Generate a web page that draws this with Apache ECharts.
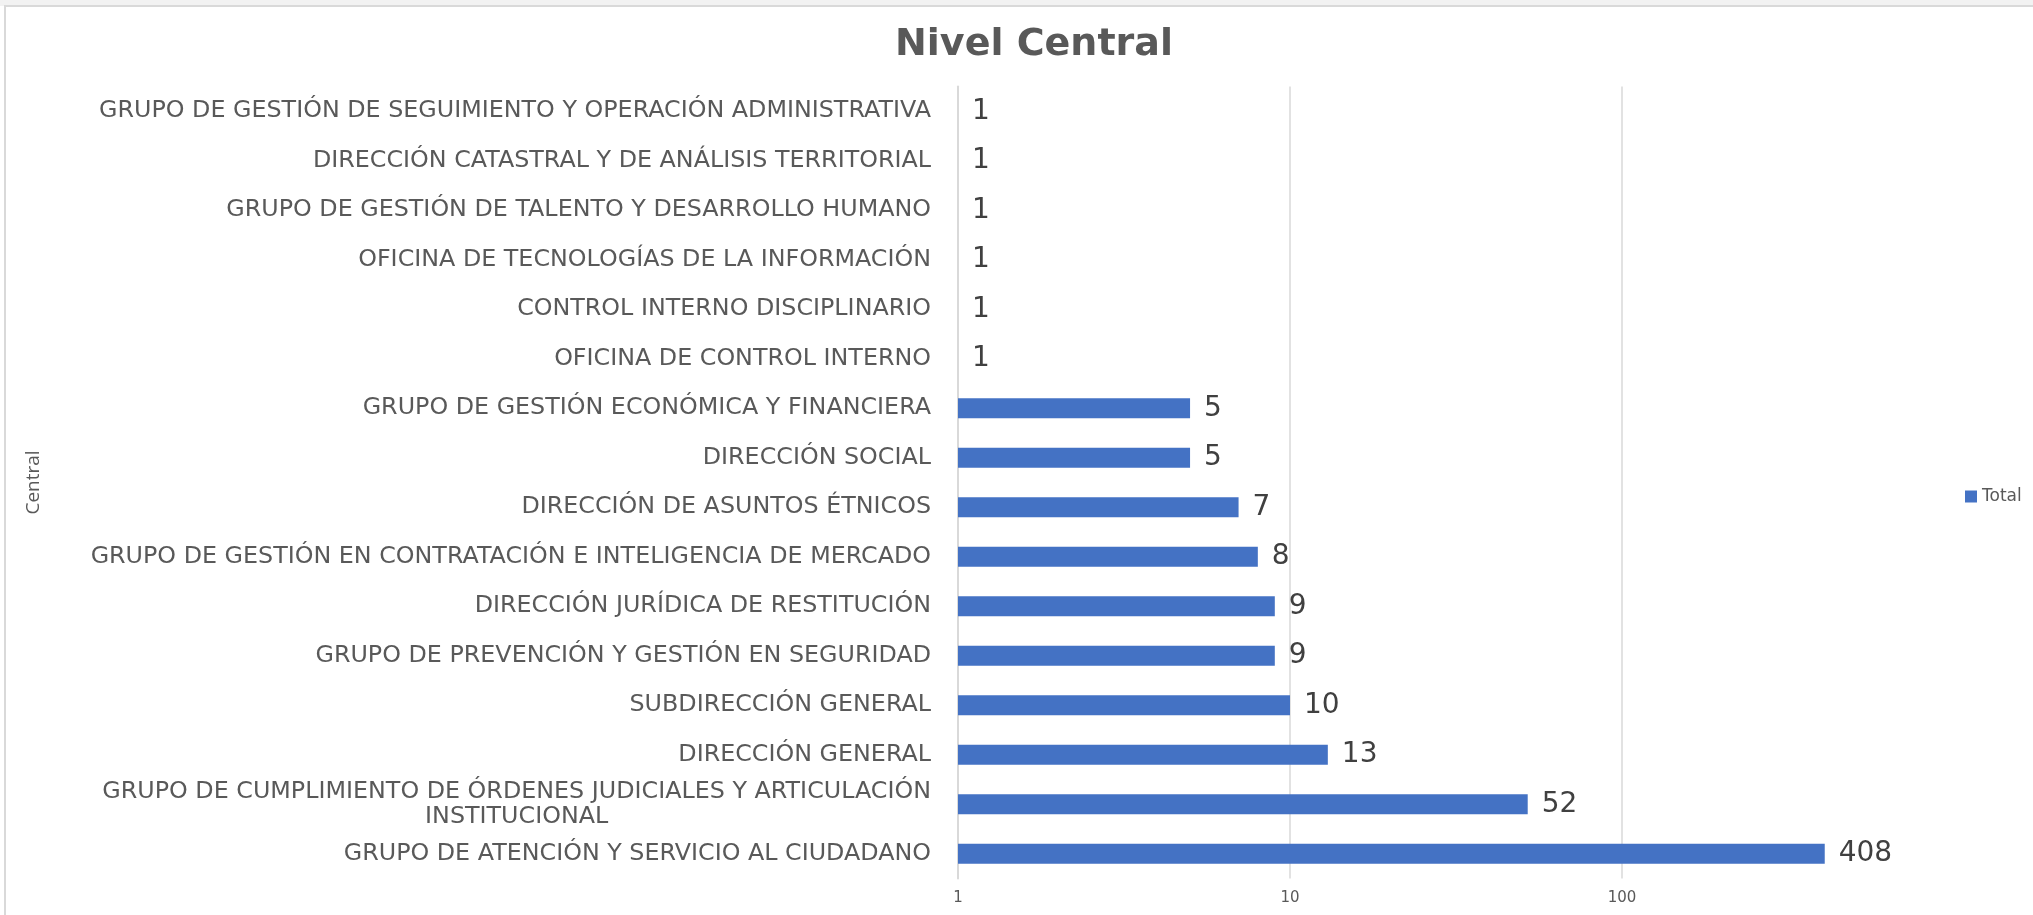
<!DOCTYPE html>
<html>
<head>
<meta charset="utf-8">
<script src="https://cdn.jsdelivr.net/npm/echarts@6/dist/echarts.min.js"></script>
<style>
  html, body { margin: 0; padding: 0; background: #ffffff; }
  #chart { width: 2033px; height: 915px; }
</style>
</head>
<body>
<div id="chart"></div>
<script>
// ---- data (top to bottom as displayed) ----
const titleText = 'Nivel Central';
const seriesName = 'Total';
const axisName = 'Central';
const categories = [
  'GRUPO DE GESTIÓN DE SEGUIMIENTO Y OPERACIÓN ADMINISTRATIVA',
  'DIRECCIÓN CATASTRAL Y DE ANÁLISIS TERRITORIAL',
  'GRUPO DE GESTIÓN DE TALENTO Y DESARROLLO HUMANO',
  'OFICINA DE TECNOLOGÍAS DE LA INFORMACIÓN',
  'CONTROL INTERNO DISCIPLINARIO',
  'OFICINA DE CONTROL INTERNO',
  'GRUPO DE GESTIÓN ECONÓMICA Y FINANCIERA',
  'DIRECCIÓN SOCIAL',
  'DIRECCIÓN DE ASUNTOS ÉTNICOS',
  'GRUPO DE GESTIÓN EN CONTRATACIÓN E INTELIGENCIA DE MERCADO',
  'DIRECCIÓN JURÍDICA DE RESTITUCIÓN',
  'GRUPO DE PREVENCIÓN Y GESTIÓN EN SEGURIDAD',
  'SUBDIRECCIÓN GENERAL',
  'DIRECCIÓN GENERAL',
  'GRUPO DE CUMPLIMIENTO DE ÓRDENES JUDICIALES Y ARTICULACIÓN\nINSTITUCIONAL',
  'GRUPO DE ATENCIÓN Y SERVICIO AL CIUDADANO'
];
const values = [1, 1, 1, 1, 1, 1, 5, 5, 7, 8, 9, 9, 10, 13, 52, 408];
const axisMin = 1;
const axisMax = 1000;

// ---- styling ----
const FONT = '"DejaVu Sans", "Liberation Sans", sans-serif';
const GREY = '#595959';

// fit category label size so longest line is about 842px wide
const ctx = document.createElement('canvas').getContext('2d');
function textW(t, size) { ctx.font = size + 'px "DejaVu Sans"'; return ctx.measureText(t).width; }
let longest = 0;
categories.forEach(c => c.split('\n').forEach(l => { longest = Math.max(longest, textW(l, 100)); }));
const catSize = Math.round(842 / longest * 100 * 10) / 10;

const chart = echarts.init(document.getElementById('chart'), null, { renderer: 'canvas' });

const option = {
  backgroundColor: '#ffffff',
  animation: false,
  title: {
    text: titleText,
    left: 1029,
    textAlign: 'center',
    top: 21,
    textStyle: { fontFamily: FONT, fontSize: 38, fontWeight: 'bold', color: GREY }
  },
  legend: {
    data: [seriesName],
    left: 1960,
    top: 483,
    icon: 'rect',
    itemWidth: 12,
    itemHeight: 12,
    textStyle: { fontFamily: FONT, fontSize: 17, color: GREY }
  },
  graphic: [
    { type: 'rect', silent: true, z: -10, shape: { x: 0, y: 0, width: 2033, height: 6 }, style: { fill: '#f2f2f2' } },
    { type: 'rect', silent: true, z: -10, shape: { x: 5, y: 6, width: 2100, height: 1000 }, style: { fill: null, stroke: '#d9d9d9', lineWidth: 2 } }
  ],
  grid: {
    left: 958,
    right: 79,
    top: 86.5,
    bottom: 36.5,
    containLabel: false
  },
  xAxis: {
    type: 'log',
    logBase: 10,
    min: axisMin,
    max: axisMax,
    axisLine: { show: false },
    axisTick: { show: false },
    axisLabel: {
      showMaxLabel: false,
      margin: 12,
      fontFamily: FONT,
      fontSize: 15,
      color: GREY
    },
    splitLine: {
      show: true,
      showMinLine: false,
      showMaxLine: false,
      lineStyle: { color: '#d9d9d9', width: 1.5 }
    }
  },
  yAxis: {
    type: 'category',
    data: categories,
    inverse: true,
    name: axisName,
    nameLocation: 'middle',
    nameRotate: 90,
    nameGap: 915,
    nameTextStyle: { fontFamily: '"Open Sans", sans-serif', fontSize: 19, color: GREY },
    axisLine: { show: true, lineStyle: { color: '#d9d9d9', width: 2 } },
    axisTick: { show: false },
    axisLabel: {
      margin: 27,
      fontFamily: FONT,
      fontSize: catSize,
      color: GREY,
      lineHeight: 25,
      formatter: function (v) {
        const parts = v.split('\n');
        if (parts.length === 1) return v;
        return '{a|' + parts[0] + '}\n{b|' + parts[1] + '}';
      },
      rich: {
        a: { fontFamily: FONT, fontSize: catSize, color: GREY, lineHeight: 25, align: 'right' },
        b: { fontFamily: FONT, fontSize: catSize, color: GREY, lineHeight: 25, align: 'center' }
      }
    }
  },
  series: [{
    name: seriesName,
    type: 'bar',
    data: values,
    barWidth: 20,
    itemStyle: { color: '#4472C4' },
    label: {
      show: true,
      position: 'right',
      distance: 14,
      fontFamily: FONT,
      fontSize: 28,
      color: '#404040'
    }
  }]
};

chart.setOption(option);
</script>
</body>
</html>
